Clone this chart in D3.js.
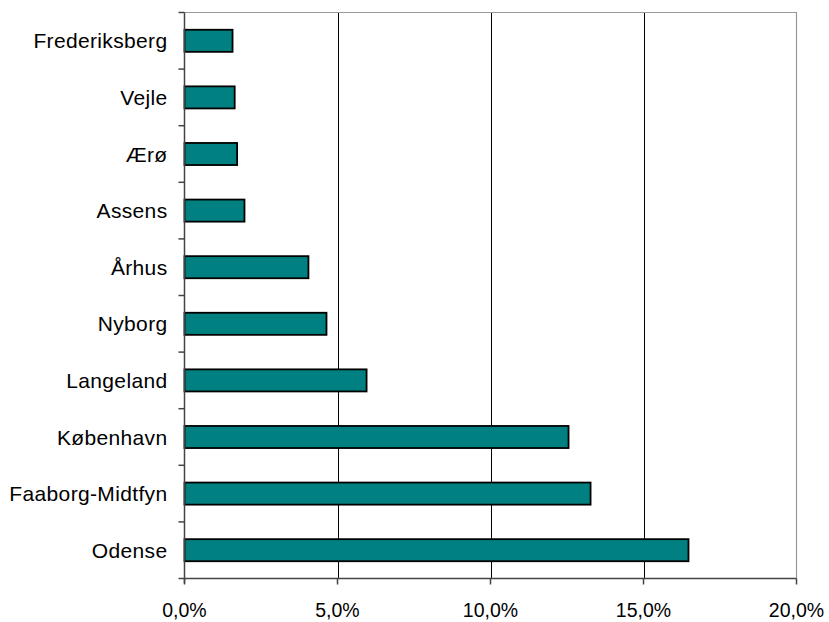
<!DOCTYPE html>
<html>
<head>
<meta charset="utf-8">
<script src="https://cdn.jsdelivr.net/npm/d3@7/dist/d3.min.js"></script>
<style>
  html, body { margin: 0; padding: 0; background: #fff; }
  svg { display: block; }
  text { font-family: "Liberation Sans", Arial, sans-serif; fill: #000; }
</style>
</head>
<body>
<svg id="chart" width="829" height="622"></svg>
<script>
// Municipalities, top to bottom
const categories = ["Frederiksberg", "Vejle", "Ærø", "Assens", "Århus", "Nyborg",
                    "Langeland", "København", "Faaborg-Midtfyn", "Odense"];
// Share in percent
const values = [1.57, 1.64, 1.72, 1.96, 4.05, 4.64, 5.95, 12.55, 13.27, 16.47];
const xTicks = [0, 5, 10, 15, 20];
const xTickLabels = ["0,0%", "5,0%", "10,0%", "15,0%", "20,0%"];

const svg = d3.select("#chart");
const plotL = 184.5, plotR = 796.5, plotT = 12.5, plotB = 578.5;

const x = d3.scaleLinear().domain([0, 20]).range([plotL, plotR]);
const y = d3.scaleBand().domain(categories).range([plotT, plotB]).paddingInner(0.61).paddingOuter(0.305);
const yBounds = d3.range(categories.length + 1).map(i => plotT + i * (plotB - plotT) / categories.length);

// Vertical gridlines
svg.append("g").selectAll("line").data(xTicks.slice(1, -1)).join("line")
  .attr("x1", d => Math.round(x(d)) + 0.5).attr("x2", d => Math.round(x(d)) + 0.5)
  .attr("y1", plotT).attr("y2", plotB)
  .attr("stroke", "#000").attr("stroke-width", 1);

// Plot frame (top and right)
svg.append("path")
  .attr("d", `M${plotL},${plotT}H${plotR}V${plotB}`)
  .attr("fill", "none").attr("stroke", "#999").attr("stroke-width", 1.2);

// Bars
svg.append("g").selectAll("rect").data(values).join("rect")
  .attr("x", x(0))
  .attr("y", (d, i) => y(categories[i]))
  .attr("width", d => x(d) - x(0))
  .attr("height", y.bandwidth())
  .attr("fill", "#008080")
  .attr("stroke", "#000")
  .attr("stroke-width", 1.8);

// Y axis with ticks at category boundaries
const yAxis = svg.append("g");
yAxis.append("line").attr("x1", plotL).attr("x2", plotL).attr("y1", plotT).attr("y2", plotB + 5)
  .attr("stroke", "#444").attr("stroke-width", 1.5);
yAxis.selectAll("line.tk").data(yBounds).join("line").attr("class", "tk")
  .attr("x1", plotL - 6).attr("x2", plotL).attr("y1", d => d).attr("y2", d => d)
  .attr("stroke", "#444").attr("stroke-width", 1.5);
yAxis.selectAll("text").data(categories).join("text")
  .attr("x", plotL - 17)
  .attr("y", d => y(d) + y.bandwidth() / 2)
  .attr("dy", "0.36em")
  .attr("text-anchor", "end")
  .attr("font-size", 21)
  .attr("letter-spacing", 0.35)
  .text(d => d);

// X axis
const xAxis = svg.append("g");
xAxis.append("line").attr("x1", plotL).attr("x2", plotR).attr("y1", plotB).attr("y2", plotB)
  .attr("stroke", "#444").attr("stroke-width", 1.5);
xAxis.selectAll("line.tk").data(xTicks).join("line").attr("class", "tk")
  .attr("x1", d => x(d)).attr("x2", d => x(d)).attr("y1", plotB).attr("y2", plotB + 6)
  .attr("stroke", "#444").attr("stroke-width", 1.5);
xAxis.selectAll("text").data(xTicks).join("text")
  .attr("x", d => x(d))
  .attr("y", 617)
  .attr("text-anchor", "middle")
  .attr("font-size", 19.5)
  .text((d, i) => xTickLabels[i]);
</script>
</body>
</html>
